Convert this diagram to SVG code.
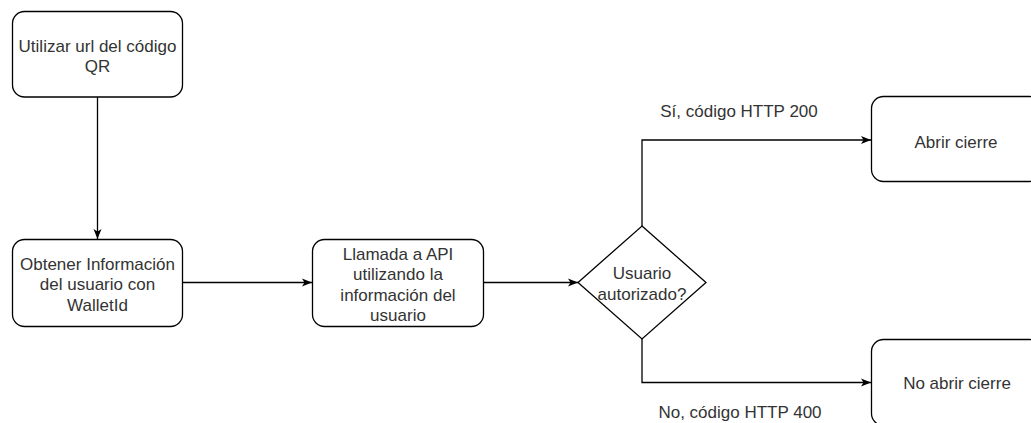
<svg xmlns="http://www.w3.org/2000/svg" width="1031" height="423" viewBox="0 0 1031 423">
  <style>
    .box { fill: #ffffff; stroke: #000000; stroke-width: 1.3; }
    .edge { fill: none; stroke: #000000; stroke-width: 1.3; }
    .lbl { font-family: "Liberation Sans", Arial, sans-serif; font-size: 17px; fill: #333333; text-anchor: middle; }
  </style>
  <defs>
    <marker id="arrow" viewBox="0 0 10 10" refX="10" refY="5" markerWidth="10" markerHeight="10" markerUnits="userSpaceOnUse" orient="auto">
      <path d="M0,1 L10,5 L0,9 L2.5,5 Z" fill="#000000"/>
    </marker>
  </defs>
  <rect width="1031" height="423" fill="#ffffff"/>

  <!-- connectors -->
  <g id="connectors">
    <path class="edge" d="M97.5,97 L97.5,239" marker-end="url(#arrow)"/>
    <path class="edge" d="M182.5,282.5 L312,282.5" marker-end="url(#arrow)"/>
    <path class="edge" d="M483.5,282.5 L578,282.5" marker-end="url(#arrow)"/>
    <path class="edge" d="M642,226 L642,140 L871,140" marker-end="url(#arrow)"/>
    <path class="edge" d="M642,339 L642,382.5 L871,382.5" marker-end="url(#arrow)"/>
    <text class="lbl" x="739" y="117">Sí, código HTTP 200</text>
    <text class="lbl" x="740" y="417.5">No, código HTTP 400</text>
  </g>

  <!-- nodes -->
  <g id="qr-url">
    <rect class="box" x="12.5" y="11.5" width="170" height="85.5" rx="12"/>
    <text class="lbl" x="97.5" y="51.5">Utilizar url del código</text>
    <text class="lbl" x="97.5" y="72">QR</text>
  </g>
  <g id="wallet-info">
    <rect class="box" x="12.5" y="239.5" width="170" height="87" rx="12"/>
    <text class="lbl" x="97.5" y="269.5">Obtener Información</text>
    <text class="lbl" x="97.5" y="290">del usuario con</text>
    <text class="lbl" x="97.5" y="310.5">WalletId</text>
  </g>
  <g id="api-call">
    <rect class="box" x="312.5" y="239.5" width="171" height="87" rx="12"/>
    <text class="lbl" x="398" y="259.5">Llamada a API</text>
    <text class="lbl" x="398" y="280">utilizando la</text>
    <text class="lbl" x="398" y="300.5">información del</text>
    <text class="lbl" x="398" y="321">usuario</text>
  </g>
  <g id="authorized">
    <path class="box" d="M642,226 L706,282.5 L642,339 L578,282.5 Z"/>
    <text class="lbl" x="642" y="279">Usuario</text>
    <text class="lbl" x="642" y="299.5">autorizado?</text>
  </g>
  <g id="open-lock">
    <rect class="box" x="871.5" y="96.5" width="170" height="85" rx="12"/>
    <text class="lbl" x="956" y="147.5">Abrir cierre</text>
  </g>
  <g id="keep-locked">
    <rect class="box" x="871.5" y="339.5" width="170" height="86" rx="12"/>
    <text class="lbl" x="957" y="389">No abrir cierre</text>
  </g>
</svg>
